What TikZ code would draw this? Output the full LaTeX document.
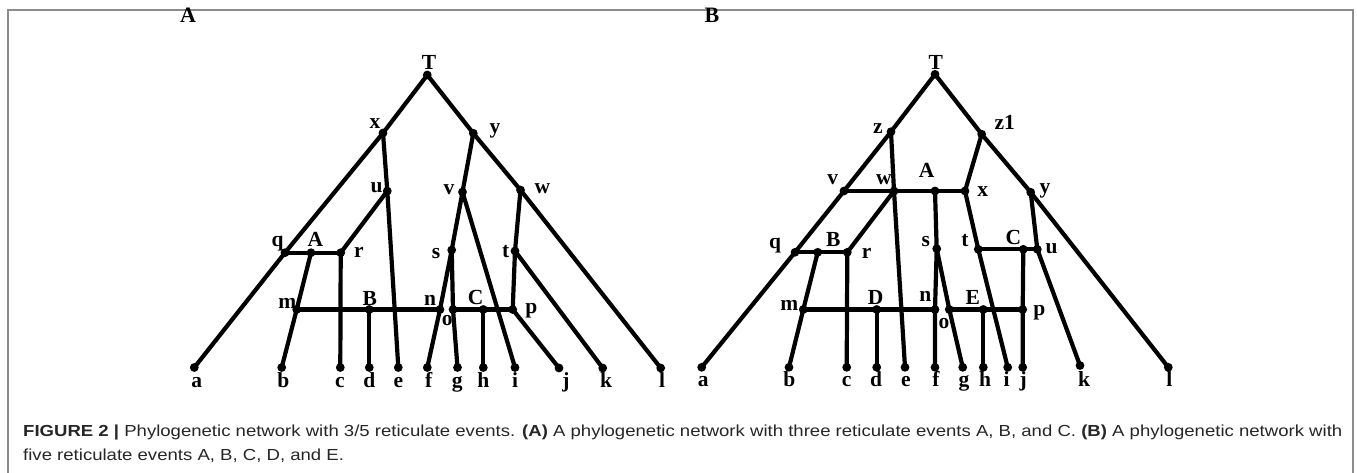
\documentclass[tikz,border=0pt]{standalone}
\usepackage{fontspec}
\setmainfont{Liberation Serif}
\newfontfamily\capfont{Liberation Sans}[FakeStretch=1.16]
\begin{document}
\begin{tikzpicture}[x=1pt,y=-1pt,
  ln/.style={line width=4.2pt},
  lab/.style={font=\fontsize{21.5}{21.5}\selectfont\bfseries, anchor=base, inner sep=0pt},
  ttl/.style={font=\fontsize{22}{22}\selectfont\bfseries, anchor=base, inner sep=0pt},
  capt/.style={font=\capfont\fontsize{16}{20}\selectfont, anchor=base west, inner sep=0pt, text=black!85},
  frame/.style={draw=black!45, line width=1.5pt},
]
\useasboundingbox (0,0) rectangle (1357,473);
\draw[frame] (8,480) -- (8,10) -- (1353,10) -- (1353,480);

% ---------------- Panel A ----------------
\node[ttl] (tA) at (188,23) {A};
\coordinate (aT) at (427.3,75);
\coordinate (ax) at (383,133);
\coordinate (ay) at (473.3,133.3);
\coordinate (au) at (387.3,191);
\coordinate (av) at (462.5,192);
\coordinate (aw) at (520.5,190);
\coordinate (aq) at (285,252.7);
\coordinate (aA) at (311,252.7);
\coordinate (ar) at (340.7,252.7);
\coordinate (as) at (451.7,250);
\coordinate (at) at (515,251);
\coordinate (am) at (296.7,309.5);
\coordinate (aB) at (369.3,309.5);
\coordinate (an) at (440,309.5);
\coordinate (ao) at (453,309.5);
\coordinate (aC) at (483.3,309.5);
\coordinate (ap) at (512.7,309.5);
\coordinate (aa) at (194.3,367.5);
\coordinate (ab) at (281.7,367.5);
\coordinate (ac) at (340.3,367.5);
\coordinate (ad) at (369.3,367.5);
\coordinate (ae) at (398.3,367.5);
\coordinate (af) at (427.3,367.5);
\coordinate (ag) at (457.5,367.5);
\coordinate (ah) at (483.3,367.5);
\coordinate (ai) at (515,367.5);
\coordinate (aj) at (559,368);
\coordinate (ak) at (602.7,368);
\coordinate (al) at (660.7,368);

\draw[ln] (aT) -- (ax) -- (aq) -- (aa);
\draw[ln] (aT) -- (ay) -- (aw) -- (al);
\draw[ln] (ax) -- (au) -- (ae);
\draw[ln] (au) -- (ar);
\draw[ln] (aq) -- (ar);
\draw[ln] (aA) -- (am) -- (ab);
\draw[ln] (ar) -- (ac);
\draw[ln] (am) -- (an);
\draw[ln] (aB) -- (ad);
\draw[ln] (ay) -- (av);
\draw[ln] (av) -- (as) -- (an) -- (af);
\draw[ln] (as) -- (ao) -- (ag);
\draw[ln] (av) -- (ai);
\draw[ln] (ao) -- (ap);
\draw[ln] (aC) -- (ah);
\draw[ln] (aw) -- (at) -- (ap);
\draw[ln] (at) -- (ak);
\draw[ln] (ap) -- (aj);
\foreach \n in {aT,ax,ay,au,av,aw,aq,aA,ar,as,at,am,aB,an,ao,aC,ap,aa,ab,ac,ad,ae,af,ag,ah,ai,aj,ak,al}
  \fill (\n) circle (4.4);

\node[lab] (laT) at (429,70) {T};
\node[lab] (lax) at (375,128.3) {x};
\node[lab] (lau) at (376.7,192.7) {u};
\node[lab] (lay) at (495,134) {y};
\node[lab] (lav) at (449,195) {v};
\node[lab] (law) at (542.3,194) {w};
\node[lab] (las) at (436,258.3) {s};
\node[lab] (lat) at (505.7,257.3) {t};
\node[lab] (laq) at (277.7,246) {q};
\node[lab] (laA) at (315.3,246.7) {A};
\node[lab] (lar) at (359,257.3) {r};
\node[lab] (lam) at (287.3,308.3) {m};
\node[lab] (laB) at (369.7,305) {B};
\node[lab] (lan) at (430,305) {n};
\node[lab] (lao) at (447.3,325) {o};
\node[lab] (laC) at (475.7,304) {C};
\node[lab] (lap) at (531.3,313.3) {p};
\node[lab] (laa) at (196.7,387) {a};
\node[lab] (lab) at (283.3,387) {b};
\node[lab] (lac) at (340,387) {c};
\node[lab] (lad) at (369.3,387) {d};
\node[lab] (lae) at (398.3,387) {e};
\node[lab] (laf) at (428.7,387) {f};
\node[lab] (lag) at (457.3,387) {g};
\node[lab] (lah) at (483.3,387) {h};
\node[lab] (lai) at (515,387) {i};
\node[lab] (laj) at (566,387) {j};
\node[lab] (lak) at (606,387) {k};
\node[lab] (lal) at (662,387) {l};

% ---------------- Panel B ----------------
\node[ttl] (tB) at (712,23) {B};
\coordinate (bT) at (935,74.3);
\coordinate (bz) at (891,131.7);
\coordinate (bz1) at (981.7,134.2);
\coordinate (bv) at (844,191);
\coordinate (bw) at (894,191);
\coordinate (bA) at (935,191);
\coordinate (bx) at (965,191);
\coordinate (by) at (1030.7,192.3);
\coordinate (bq) at (795,252.3);
\coordinate (bB) at (817.7,252.3);
\coordinate (br) at (847.3,252.3);
\coordinate (bs) at (936.7,248.7);
\coordinate (bt) at (978.3,249.3);
\coordinate (bC) at (1023.3,249.3);
\coordinate (bu) at (1037.3,249.3);
\coordinate (bm) at (803.3,309.5);
\coordinate (bD) at (876.7,309.5);
\coordinate (bn) at (935,309.5);
\coordinate (bo) at (949.3,309.5);
\coordinate (bE) at (983.3,309.5);
\coordinate (bp) at (1022.7,309.5);
\coordinate (ba) at (701.7,367.3);
\coordinate (bb) at (789,367.3);
\coordinate (bc) at (846.7,367.3);
\coordinate (bd) at (876.7,367.3);
\coordinate (be) at (905,367.3);
\coordinate (bf) at (935,367.3);
\coordinate (bg) at (962.7,367.3);
\coordinate (bh) at (983.3,367.3);
\coordinate (bi) at (1007.7,367.3);
\coordinate (bj) at (1022.7,367.3);
\coordinate (bk) at (1080,365.5);
\coordinate (bl) at (1168.3,367.3);

\draw[ln] (bT) -- (bz) -- (bv) -- (bq) -- (ba);
\draw[ln] (bT) -- (bz1) -- (by) -- (bl);
\draw[ln] (bz) -- (bw) -- (be);
\draw[ln] (bv) -- (bx);
\draw[ln] (bw) -- (br);
\draw[ln] (bz1) -- (bx);
\draw[ln] (bx) -- (bt) -- (bi);
\draw[ln] (bA) -- (bs) -- (bn) -- (bf);
\draw[ln] (bs) -- (bo) -- (bg);
\draw[ln] (bq) -- (br);
\draw[ln] (bB) -- (bm) -- (bb);
\draw[ln] (br) -- (bc);
\draw[ln] (bm) -- (bn);
\draw[ln] (bD) -- (bd);
\draw[ln] (bt) -- (bu);
\draw[ln] (bC) -- (bp) -- (bj);
\draw[ln] (bo) -- (bp);
\draw[ln] (bE) -- (bh);
\draw[ln] (by) -- (bu) -- (bk);
\foreach \n in {bT,bz,bz1,bv,bw,bA,bx,by,bq,bB,br,bs,bt,bC,bu,bm,bD,bn,bo,bE,bp,ba,bb,bc,bd,be,bf,bg,bh,bi,bj,bk,bl}
  \fill (\n) circle (4.4);

\node[lab] (lbT) at (935.7,69.5) {T};
\node[lab] (lbz) at (878,133.3) {z};
\node[lab] (lbz1) at (1004.7,130) {z1};
\node[lab] (lbv) at (832.7,185) {v};
\node[lab] (lbw) at (884,185) {w};
\node[lab] (lbA) at (926.7,177.3) {A};
\node[lab] (lbx) at (982.7,196.7) {x};
\node[lab] (lby) at (1045,193.3) {y};
\node[lab] (lbs) at (925.7,246) {s};
\node[lab] (lbt) at (965,246.7) {t};
\node[lab] (lbC) at (1013.3,244) {C};
\node[lab] (lbu) at (1051.7,254) {u};
\node[lab] (lbq) at (775,248.3) {q};
\node[lab] (lbB) at (833.3,246.7) {B};
\node[lab] (lbr) at (866.7,258.3) {r};
\node[lab] (lbm) at (789.3,310) {m};
\node[lab] (lbD) at (875.7,304) {D};
\node[lab] (lbn) at (925.3,301.7) {n};
\node[lab] (lbo) at (944,328.3) {o};
\node[lab] (lbE) at (972.7,304) {E};
\node[lab] (lbp) at (1039.3,315) {p};
\node[lab] (lba) at (703.3,386.5) {a};
\node[lab] (lbb) at (789.3,386.5) {b};
\node[lab] (lbc) at (846.7,386.5) {c};
\node[lab] (lbd) at (876,386.5) {d};
\node[lab] (lbe) at (906,386.5) {e};
\node[lab] (lbf) at (936,386.5) {f};
\node[lab] (lbg) at (964,386.5) {g};
\node[lab] (lbh) at (985,386.5) {h};
\node[lab] (lbi) at (1006.7,386.5) {i};
\node[lab] (lbj) at (1023.3,386.5) {j};
\node[lab] (lbk) at (1084,386.5) {k};
\node[lab] (lbl) at (1169.3,386.5) {l};

% ---------------- Caption ----------------
\node[capt] (cap1) at (23,436) {\textbf{FIGURE 2 |} Phylogenetic network with 3/5 reticulate events. \textbf{(A)} A phylogenetic network with three reticulate events A, B, and C. \textbf{(B)} A phylogenetic network with};
\node[capt] (cap2) at (23,460) {five reticulate events A, B, C, D, and E.};
\end{tikzpicture}
\end{document}
